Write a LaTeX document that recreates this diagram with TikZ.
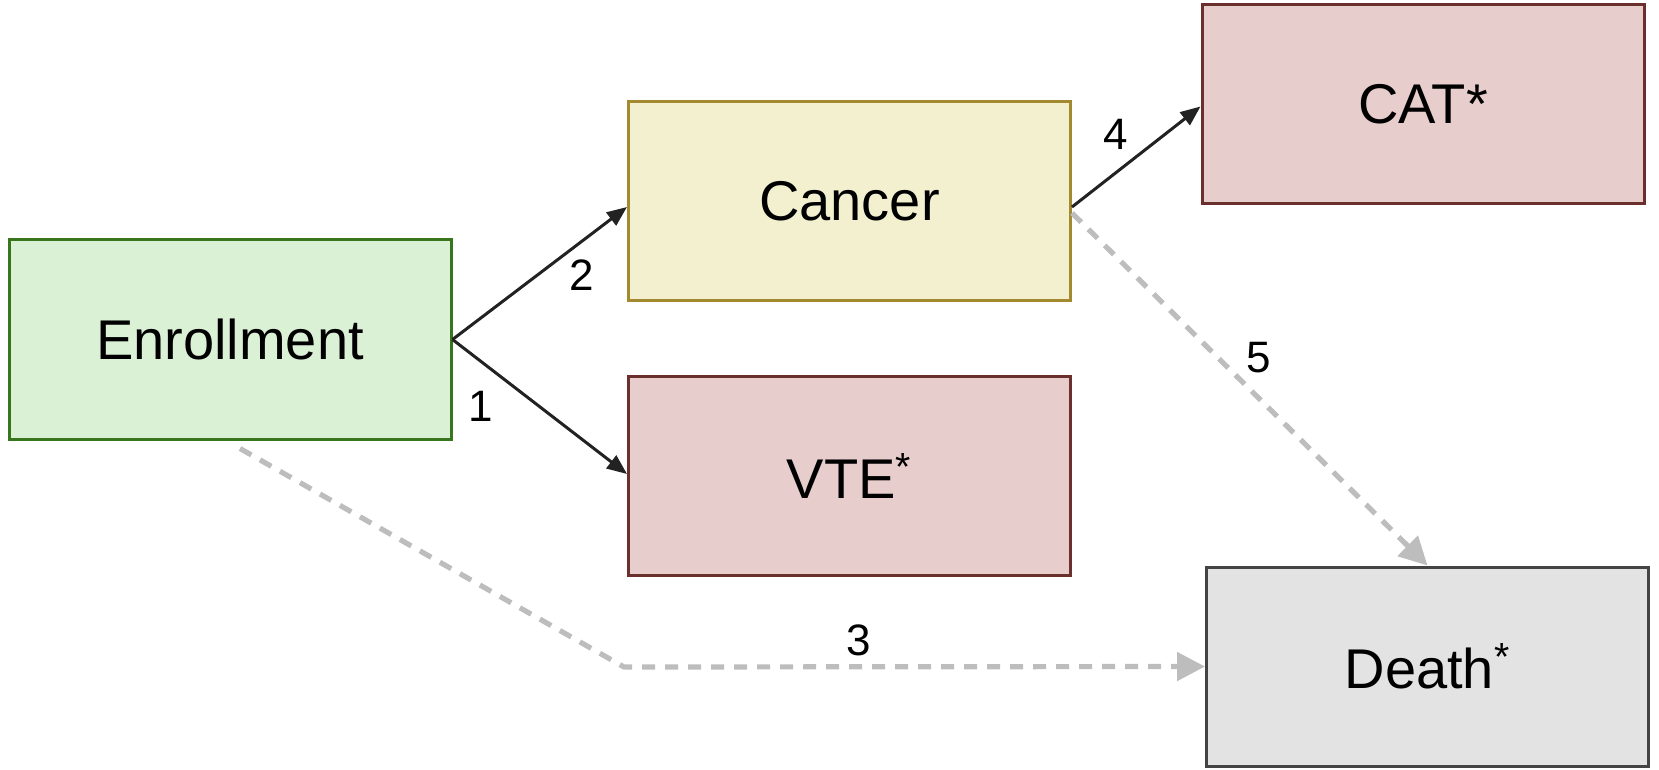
\documentclass[tikz,border=0pt]{standalone}
\usepackage{fontspec}
\setmainfont{Liberation Sans}
\usetikzlibrary{arrows.meta}

\definecolor{enrfill}{HTML}{DBF1D6}
\definecolor{enrline}{HTML}{38761D}
\definecolor{canfill}{HTML}{F3F0D0}
\definecolor{canline}{HTML}{A38A30}
\definecolor{evtfill}{HTML}{E8CDCD}
\definecolor{evtline}{HTML}{6B302E}
\definecolor{dthfill}{HTML}{E3E3E3}
\definecolor{dthline}{HTML}{444444}
\definecolor{solidarrow}{HTML}{222222}
\definecolor{dasharrow}{HTML}{BDBDBD}

\tikzset{
  statebox/.style={draw, line width=1.5pt, minimum width=221pt, minimum height=99.5pt,
    inner sep=0pt, font=\fontsize{28}{32}\selectfont},
  steplabel/.style={inner sep=0pt, font=\fontsize{22}{26}\selectfont},
  solidlink/.style={draw=solidarrow, line width=1.5pt,
    -{Triangle[length=10pt,width=8pt]}},
  dashlink/.style={draw=dasharrow, line width=2.6pt, dash pattern=on 6.5pt off 5pt,
    -{Triangle[length=14pt,width=14pt]}},
}

\begin{document}
\begin{tikzpicture}[x=0.5pt, y=-0.5pt]
\useasboundingbox (0,0) rectangle (1659,770);

% states
\node[statebox, fill=enrfill, draw=enrline] (enr)    at (230,339.5)   {Enrollment};
\node[statebox, fill=canfill, draw=canline] (cancer) at (849.5,201)   {Cancer};
\node[statebox, fill=evtfill, draw=evtline] (vte)    at (849.5,476)   {VTE\textsuperscript{*}};
\node[statebox, fill=evtfill, draw=evtline] (cat)    at (1423,104.5)  {CAT*};
\node[statebox, fill=dthfill, draw=dthline] (death)  at (1427.5,666.5){Death\textsuperscript{*}};

% bend of the enrollment-to-death path
\coordinate (bend) at (624,667);

% transitions
\draw[dashlink] ([xshift=5pt,yshift=-4pt]enr.south) -- (bend) -- (death.west);
\draw[dashlink] ([yshift=-6pt]cancer.east) -- (death.north);
\draw[solidlink] (enr.east) -- ([yshift=-3pt]cancer.west);
\draw[solidlink] (enr.east) -- ([yshift=1pt]vte.west);
\draw[solidlink] ([yshift=-3pt]cancer.east) -- ([yshift=-1pt]cat.west);

% transition numbers
\node[steplabel] (l1) at (481,406)  {1};
\node[steplabel] (l2) at (582,275)  {2};
\node[steplabel] (l3) at (859,640)  {3};
\node[steplabel] (l4) at (1116,134) {4};
\node[steplabel] (l5) at (1259,358) {5};
\end{tikzpicture}
\end{document}
